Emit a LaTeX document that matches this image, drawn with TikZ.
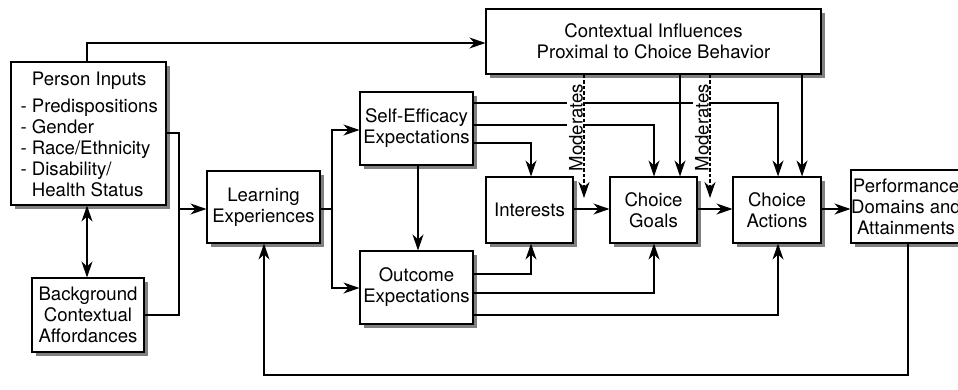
\documentclass[tikz,border=0pt]{standalone}
\usepackage{fontspec}
\setmainfont{TeX Gyre Heros}
\usetikzlibrary{arrows.meta,shadows}
\begin{document}
\begin{tikzpicture}[x=1pt,y=-1pt,
  font=\fontsize{18.6}{21}\selectfont,
  line width=1.1pt,
  box/.style={draw, fill=white, line width=1.1pt, inner sep=0pt, align=center,
     drop shadow={shadow xshift=4pt, shadow yshift=-4pt, fill=black!50, opacity=1}},
  arr/.style={-{Stealth[length=16pt,width=11pt,inset=5pt]}},
  dbl/.style={{Stealth[length=16pt,width=11pt,inset=5pt]}-{Stealth[length=16pt,width=11pt,inset=5pt]}},
  dashline/.style={dash pattern=on 3.5pt off 2pt, line width=1.1pt},
  modtext/.style={rotate=90, fill=white, inner xsep=0pt, inner ysep=2pt, anchor=base}
]
\path[use as bounding box, clip] (0,0) rectangle (958,389);

% boxes
\node[box, minimum width=155pt, minimum height=143pt] (person) at (88.5,133.5) {};
\node[anchor=base west, inner sep=0pt] (ptxt) at (20,85)
  {\begin{tabular}[t]{@{}l@{}}\multicolumn{1}{@{}c@{}}{Person Inputs}\\[6pt]
   - Predispositions\\- Gender\\- Race/Ethnicity\\- Disability/\\\phantom{- }Health Status\end{tabular}};
\node[box, minimum width=112pt, minimum height=74pt] (bg) at (88,315) {Background\\Contextual\\Affordances};
\node[box, minimum width=113pt, minimum height=72pt] (learn) at (263.5,207) {Learning\\Experiences};
\node[box, minimum width=113pt, minimum height=73pt] (se) at (416.5,128.5) {Self-Efficacy\\Expectations};
\node[box, minimum width=113pt, minimum height=73pt] (oe) at (416.5,287.5) {Outcome\\Expectations};
\node[box, minimum width=87pt, minimum height=66pt] (int) at (529.5,210) {Interests};
\node[box, minimum width=87pt, minimum height=66pt] (goals) at (653.5,210) {Choice\\Goals};
\node[box, minimum width=88pt, minimum height=66pt] (act) at (777,210) {Choice\\Actions};
\node[box, minimum width=110pt, minimum height=73pt] (perf) at (906,206.5) {Performance\\Domains and\\Attainments};
\node[box, minimum width=335pt, minimum height=65pt] (ctx) at (653.5,41.5) {Contextual Influences\\Proximal to Choice Behavior};

% junctions
\coordinate (j1) at (179,209);
\coordinate (j2) at (332,209);
\coordinate (m1) at (584,198);
\coordinate (m2) at (710,198);

% person inputs
\draw[arr] (87,0 |- person.north) |- (ctx.west |- 0,43);
\draw[arr] (person.east |- 0,133) -| (j1) -- (learn.west |- j1);
\draw (bg.east |- 0,315) -| (j1);
\draw[dbl] (87,0 |- person.south) -- (87,0 |- bg.north);

% learning experiences
\draw (learn.east |- j2) -- (j2);
\draw[arr] (j2) |- (se.west |- 0,130);
\draw[arr] (j2) |- (oe.west |- 0,288);
\draw[arr] (418,0 |- se.south) -- (418,0 |- oe.north);

% self-efficacy outputs
\draw[arr] (se.east |- 0,103) -| (778,0 |- act.north);
\draw[arr] (se.east |- 0,125) -| (654,0 |- goals.north);
\draw[arr] (se.east |- 0,143) -| (531,0 |- int.north);

% outcome expectation outputs
\draw[arr] (oe.east |- 0,274) -| (531,0 |- int.south);
\draw[arr] (oe.east |- 0,293) -| (654,0 |- goals.south);
\draw[arr] (oe.east |- 0,315) -| (778,0 |- act.south);

% chain
\draw[arr] (int.east |- 0,209) -- (goals.west |- 0,209);
\draw[arr] (goals.east |- 0,209) -- (act.west |- 0,209);
\draw[arr] (act.east |- 0,209) -- (perf.west |- 0,209);

% contextual influences
\draw[arr] (680,0 |- ctx.south) -- (680,0 |- goals.north);
\draw[arr] (802,0 |- ctx.south) -- (802,0 |- act.north);

% moderates
\node[modtext] (mod1) at (582.5,127.5) {Moderates};
\node[modtext] (mod2) at (708.5,127.5) {Moderates};
\draw[dashline, arr] (584,0 |- ctx.south) -- (m1);
\draw[dashline, arr] (710,0 |- ctx.south) -- (m2);

% feedback
\draw[arr] (908,0 |- perf.south) -- (908,375) -| (264,0 |- learn.south);
\end{tikzpicture}
\end{document}
